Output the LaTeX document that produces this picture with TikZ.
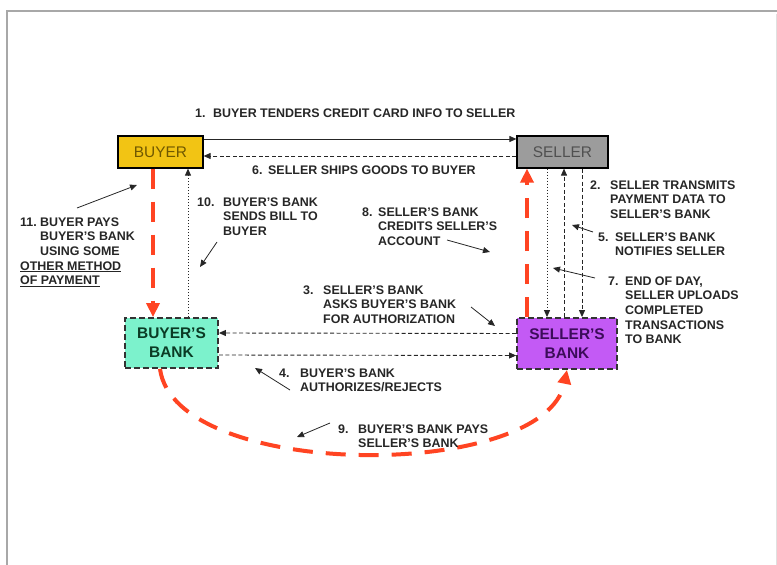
\documentclass[tikz,border=0pt]{standalone}
\usepackage{fontspec}
\setmainfont{Liberation Sans}
\usetikzlibrary{arrows.meta}
\definecolor{redd}{HTML}{FF4422}
\definecolor{buyerfill}{HTML}{F2C414}
\definecolor{buyertext}{HTML}{705800}
\definecolor{sellerfill}{HTML}{9C9C9C}
\definecolor{sellertext}{HTML}{505050}
\definecolor{bbankfill}{HTML}{7CF2CC}
\definecolor{bbanktext}{HTML}{0B3B25}
\definecolor{sbankfill}{HTML}{C35AF5}
\definecolor{sbanktext}{HTML}{3C0C5A}
\definecolor{framegray}{HTML}{A8A8A8}
\newcommand{\lnum}[2]{\makebox[#1][l]{#2}}
\begin{document}
\begin{tikzpicture}[x=1bp,y=-1bp,
  box/.style={draw=black, line width=1.2bp, inner sep=0, align=center},
  bankbox/.style={draw=black!80, line width=1.8bp, dash pattern=on 6bp off 3bp, inner sep=0, align=center,
     font=\bfseries\fontsize{15.5}{19}\selectfont},
  lbl/.style={font=\bfseries\fontsize{12.5}{14.6}\selectfont, text=black!85, inner sep=0, align=left, anchor=north west},
  blk/.style={-{Triangle[length=7bp,width=6bp]}, line width=0.9bp, draw=black!85},
  dsh/.style={blk, dash pattern=on 4bp off 2.5bp},
  dtt/.style={blk, dash pattern=on 1.2bp off 1.8bp},
  redarr/.style={-{Triangle[length=14bp,width=13bp]}, line width=4bp, draw=redd, dash pattern=on 20bp off 13bp},
  ptr/.style={-{Triangle[length=7bp,width=6bp]}, line width=0.8bp, draw=black!85}
]
\useasboundingbox (0,0) rectangle (777,565);
% frame
\draw[framegray, line width=2.5bp] (7,565) -- (7,11) -- (777,11);
\draw[black!12, line width=1bp] (776,14) -- (776,565);

% boxes
\node[box, fill=buyerfill, text=buyertext, minimum width=85bp, minimum height=32bp,
      font=\fontsize{15.5}{18}\selectfont] (buyer) at (160.5,152) {BUYER};
\node[box, fill=sellerfill, text=sellertext, minimum width=91bp, minimum height=32bp,
      font=\fontsize{15.5}{18}\selectfont] (seller) at (562.5,152) {SELLER};
\node[bankbox, fill=bbankfill, text=bbanktext, minimum width=93bp, minimum height=50bp] (bbank) at (171.5,343) {BUYER'S\\BANK};
\node[bankbox, fill=sbankfill, text=sbanktext, minimum width=100bp, minimum height=51bp] (sbank) at (567,343.5) {SELLER'S\\BANK};

% connectors between boxes
\draw[blk] ([yshift=13bp]buyer.east) -- ([yshift=13bp]seller.west);
\draw[dsh] ([yshift=-4bp]seller.west) -- ([yshift=-4bp]buyer.east);
\draw[dsh] ([yshift=10bp]sbank.west) -- ([yshift=10bp]bbank.east);
\draw[dsh] ([yshift=-12bp]bbank.east) -- ([yshift=-12bp]sbank.west);
\draw[dtt] ([xshift=16.5bp]bbank.north) -- ([xshift=16.5bp]bbank.north |- buyer.south);
\draw[dtt] ([xshift=-20bp]sbank.north |- seller.south) -- ([xshift=-20bp]sbank.north);
\draw[dsh] ([xshift=-3bp]sbank.north) -- ([xshift=-3bp]sbank.north |- seller.south);
\draw[dsh] ([xshift=15bp]sbank.north |- seller.south) -- ([xshift=15bp]sbank.north);
% red flows
\draw[redarr] ([xshift=-7.5bp]buyer.south) -- ([xshift=-7.5bp]buyer.south |- bbank.north);
\draw[redarr] ([xshift=-40bp]sbank.north) -- ([xshift=-40bp]sbank.north |- seller.south);
\draw[redarr] ([xshift=-11.5bp]bbank.south) .. controls +(15,112) and +(-22,112) .. (sbank.south);

% labels
\node[lbl] (l1) at (195,108.5) {\lnum{18bp}{1.}BUYER TENDERS CREDIT CARD INFO TO SELLER};
\node[lbl] (l6) at (252,165.5) {\lnum{16bp}{6.}SELLER SHIPS GOODS TO BUYER};
\node[lbl] (l11) at (20,217.5) {\lnum{20bp}{11.}BUYER PAYS\\\hspace*{20bp}BUYER'S BANK\\\hspace*{20bp}USING SOME\\\underline{OTHER METHOD}\\\underline{OF PAYMENT}};
\node[lbl] (l10) at (197,197.5) {\lnum{26bp}{10.}BUYER'S BANK\\\hspace*{26bp}SENDS BILL TO\\\hspace*{26bp}BUYER};
\node[lbl] (l8) at (362,207.5) {\lnum{16bp}{8.}SELLER'S BANK\\\hspace*{16bp}CREDITS SELLER'S\\\hspace*{16bp}ACCOUNT};
\node[lbl] (l3) at (303,285.5) {\lnum{20bp}{3.}SELLER'S BANK\\\hspace*{20bp}ASKS BUYER'S BANK\\\hspace*{20bp}FOR AUTHORIZATION};
\node[lbl] (l4) at (279,368.5) {\lnum{21bp}{4.}BUYER'S BANK\\\hspace*{21bp}AUTHORIZES/REJECTS};
\node[lbl] (l2) at (590,180.5) {\lnum{20bp}{2.}SELLER TRANSMITS\\\hspace*{20bp}PAYMENT DATA TO\\\hspace*{20bp}SELLER'S BANK};
\node[lbl] (l5) at (598,232.5) {\lnum{17bp}{5.}SELLER'S BANK\\\hspace*{17bp}NOTIFIES SELLER};
\node[lbl] (l7) at (608,276.5) {\lnum{17bp}{7.}END OF DAY,\\\hspace*{17bp}SELLER UPLOADS\\\hspace*{17bp}COMPLETED\\\hspace*{17bp}TRANSACTIONS\\\hspace*{17bp}TO BANK};
\node[lbl] (l9) at (338,424.5) {\lnum{20bp}{9.}BUYER'S BANK PAYS\\\hspace*{20bp}SELLER'S BANK};

% pointer coordinates
\coordinate (p11a) at (77,208);  \coordinate (p11b) at (137,185);
\coordinate (p10a) at (217,242); \coordinate (p10b) at (200,267);
\coordinate (p8a) at (447,240);  \coordinate (p8b) at (490,252);
\coordinate (p3a) at (471,307);  \coordinate (p3b) at (495,326);
\coordinate (p4a) at (290,390);  \coordinate (p4b) at (255,368);
\coordinate (p5a) at (593,232);  \coordinate (p5b) at (572,225);
\coordinate (p7a) at (595,278);  \coordinate (p7b) at (553,268);
\coordinate (p9a) at (330,423);  \coordinate (p9b) at (297,437);
\foreach \p in {p11,p10,p8,p3,p4,p5,p7,p9}
  \draw[ptr] (\p a) -- (\p b);
\end{tikzpicture}
\end{document}
